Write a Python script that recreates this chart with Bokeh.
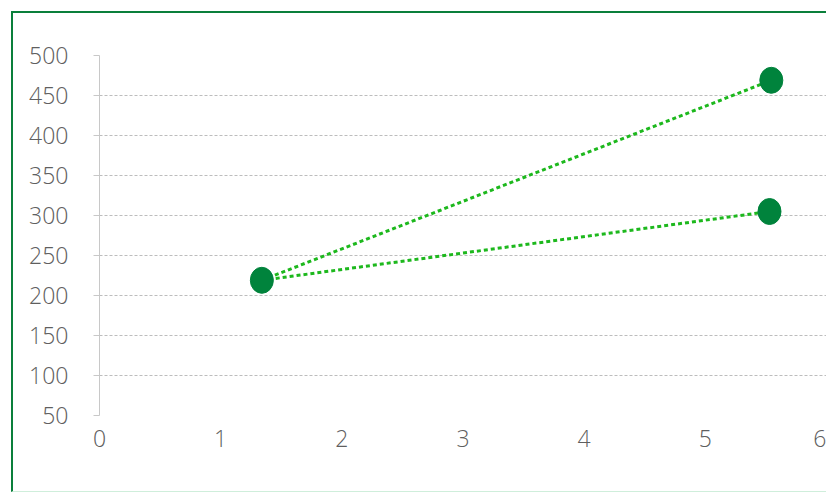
from bokeh.plotting import figure
from bokeh.models import Range1d, FixedTicker
from bokeh.embed import file_html
from bokeh.resources import INLINE

# data
start_x = [1.34, 1.34]
start_y = [219, 219]
end_x = [5.545, 5.53]
end_y = [469, 305]
pt_x = [1.34, 5.545, 5.53]
pt_y = [219, 469, 305]
x_ticks = [0, 1, 2, 3, 4, 5, 6]
y_ticks = [50, 100, 150, 200, 250, 300, 350, 400, 450, 500]

FONT = "Open Sans Light, Open Sans"
LABEL = "#5f5f5f"

p = figure(width=815, height=481, output_backend="svg", toolbar_location=None,
           x_range=Range1d(0, 6.017), y_range=Range1d(50, 500),
           min_border_left=86, min_border_top=42, min_border_right=0, min_border_bottom=79)
p.styles = {"margin-left": "11px", "margin-top": "11px",
            "border-left": "2px solid #0a7f3b", "border-top": "2px solid #0a7f3b",
            "border-bottom": "1px solid #cfeedb"}
p.outline_line_color = None
p.background_fill_color = "white"
p.border_fill_color = "white"

p.xaxis.ticker = FixedTicker(ticks=x_ticks)
p.yaxis.ticker = FixedTicker(ticks=y_ticks)

p.xaxis.axis_line_color = None
p.xaxis.major_tick_line_color = None
p.xaxis.minor_tick_line_color = None
p.xaxis.major_label_standoff = 8
p.xaxis.major_label_text_font = FONT
p.xaxis.major_label_text_font_size = "23px"
p.xaxis.major_label_text_color = LABEL

p.yaxis.axis_line_color = "#c8c8c8"
p.yaxis.major_tick_line_color = "#c8c8c8"
p.yaxis.major_tick_out = 6
p.yaxis.major_tick_in = 0
p.yaxis.minor_tick_line_color = None
p.yaxis.major_label_standoff = 25
p.yaxis.major_label_text_font = FONT
p.yaxis.major_label_text_font_size = "23px"
p.yaxis.major_label_text_color = LABEL

p.xgrid.grid_line_color = None
p.ygrid.grid_line_color = "#bdbdbd"
p.ygrid.grid_line_dash = "3 2"
p.ygrid.grid_line_width = 1

p.segment(x0=start_x, y0=start_y, x1=end_x, y1=end_y,
          line_color="#1db81d", line_width=3, line_dash="4 3")
p.ellipse(x=pt_x, y=pt_y, width=23, height=26, width_units="screen", height_units="screen",
          fill_color="#00833c", line_color="#00833c")

open("out.html", "w").write(file_html(p, INLINE))
